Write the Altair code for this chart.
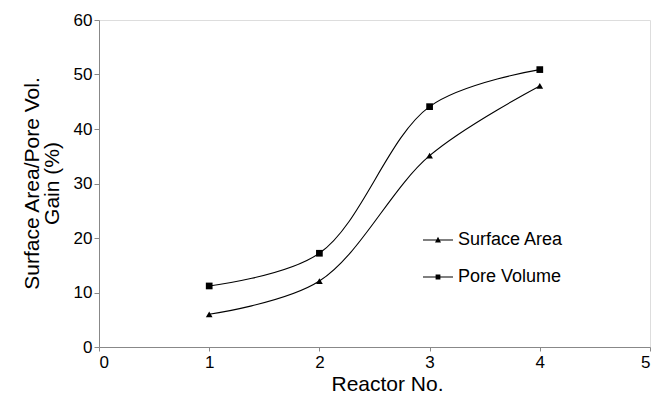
import altair as alt
import pandas as pd

reactor = [1, 2, 3, 4]
surface_area = [6.0, 12.1, 35.1, 47.9]
pore_volume = [11.2, 17.2, 44.1, 50.9]
series_names = ["Surface Area", "Pore Volume"]
x_ticks = [0, 1, 2, 3, 4, 5]
y_ticks = [0, 10, 20, 30, 40, 50, 60]

rows = []
for r, v in zip(reactor, surface_area):
    rows.append({"reactor": r, "value": v, "series": series_names[0]})
for r, v in zip(reactor, pore_volume):
    rows.append({"reactor": r, "value": v, "series": series_names[1]})
df = pd.DataFrame(rows)

FONT = "Liberation Sans"

x_enc = alt.X(
    "reactor:Q",
    scale=alt.Scale(domain=[0, 5], nice=False),
    axis=alt.Axis(
        values=x_ticks, title="Reactor No.", grid=False, tickSize=4,
        labelPadding=3, labelFontSize=17, titleFontSize=21,
        titleFontWeight="normal", titleX=288, titleY=43,
        titleBaseline="alphabetic", titleAlign="center",
    ),
)
y_enc = alt.Y(
    "value:Q",
    scale=alt.Scale(domain=[0, 60], nice=False),
    axis=alt.Axis(
        values=y_ticks, title=["Surface Area/Pore Vol.", "Gain (%)"], grid=False,
        tickSize=5, labelPadding=2, labelFontSize=17, titleFontSize=21,
        titleFontWeight="normal", titleLineHeight=20, titleX=-61, titleY=163,
        titleAngle=-90, titleBaseline="alphabetic", titleAlign="center",
    ),
)

base = alt.Chart(df)

lines = base.mark_line(interpolate="catmull-rom", color="black", strokeWidth=1.1).encode(
    x=x_enc, y=y_enc, detail="series:N"
)

points = base.mark_point(filled=True, color="black", opacity=1, size=45).encode(
    x=x_enc, y=y_enc,
    shape=alt.Shape("series:N", scale=alt.Scale(domain=series_names, range=["triangle-up", "square"]), legend=None),
)

tri_path = "M-1,-0.035L1,-0.035L1,0.035L-1,0.035Z M0,-0.22L0.2,0.16L-0.2,0.16Z"
sq_path = "M-1,-0.035L1,-0.035L1,0.035L-1,0.035Z M-0.16,-0.16L0.16,-0.16L0.16,0.16L-0.16,0.16Z"

legend_layer = base.transform_filter("false").mark_point(filled=True, color="black", opacity=1).encode(
    x=x_enc, y=y_enc,
    shape=alt.Shape(
        "series:N",
        scale=alt.Scale(domain=series_names, range=[tri_path, sq_path]),
        legend=alt.Legend(
            title=None, orient="none", legendX=324, legendY=205, padding=0,
            symbolSize=900, symbolFillColor="black", symbolStrokeColor="black",
            symbolStrokeWidth=0, labelFontSize=18, labelFont=FONT, labelOffset=5,
            rowPadding=13, labelColor="black",
        ),
    ),
)

chart = alt.layer(lines, points, legend_layer).resolve_scale(shape="independent").properties(
    width=551, height=327,
    padding={"left": 99, "top": 20, "right": 5, "bottom": 47},
    autosize=alt.AutoSizeParams(type="none"),
).configure_view(
    stroke="#333333", strokeWidth=1
).configure_axis(
    domainColor="black", tickColor="black", labelColor="black", titleColor="black",
    labelFont=FONT, titleFont=FONT, domainWidth=1, tickWidth=1,
).configure(background="white")

chart.save("out.html", embed_options={"renderer": "svg", "actions": False})
